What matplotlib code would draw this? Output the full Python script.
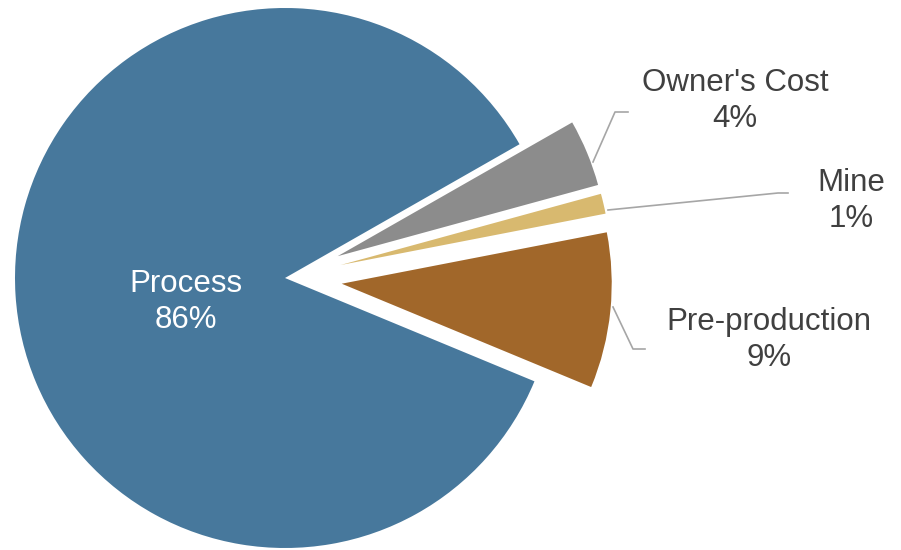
import numpy as np
import matplotlib.pyplot as plt

# data (percent of total)
labels = ["Owner's Cost", "Mine", "Pre-production", "Process"]
shares = [4.0, 1.2, 9.3, 85.5]
pct_text = ["4%", "1%", "9%", "86%"]
colors = ["#8C8C8C", "#D8B96F", "#A1672A", "#47789C"]

R = 270
pull = 57  # explosion distance of the small slices, in pixels
explode = [pull, pull, pull, 0]
plt.rcParams['font.family'] = ['Liberation Sans', 'DejaVu Sans']

fig = plt.figure(figsize=(9.01, 5.5), dpi=100)
ax = fig.add_axes([0, 0, 1, 1])

wedges, _ = ax.pie(shares, colors=colors, explode=explode, radius=R,
                   startangle=29.7, counterclock=False,
                   wedgeprops=dict(linewidth=0))

# pixel-like units, pie centre at (285, 278) from top-left
ax.set_aspect("auto")
ax.set_xlim(-285, 901 - 285)
ax.set_ylim(-(550 - 278), 278)
ax.axis("off")

# label positions (pixel coords from top-left) and leader lines
def px(x, y):
    return x - 285, 278 - y

txt_pos = [(735, 101), (851, 201), (769, 340), (186, 302)]
leaders = [
    [(593, 162), (615, 112), (628, 112)],
    [(608, 210), (778, 193), (788, 193)],
    [(613, 307), (633, 349), (645, 349)],
    None,
]

for i in range(len(labels)):
    x, y = px(*txt_pos[i])
    col = "white" if labels[i] == "Process" else "#404040"
    ax.text(x, y, labels[i] + "\n" + pct_text[i], ha="center", va="center",
            fontsize=22.5, color=col, linespacing=1.3)
    if leaders[i] is not None:
        pts = np.array([px(a, b) for a, b in leaders[i]])
        ax.plot(pts[:, 0], pts[:, 1], color="#A6A6A6", lw=1.2)

fig.savefig("out.png", dpi=100)
